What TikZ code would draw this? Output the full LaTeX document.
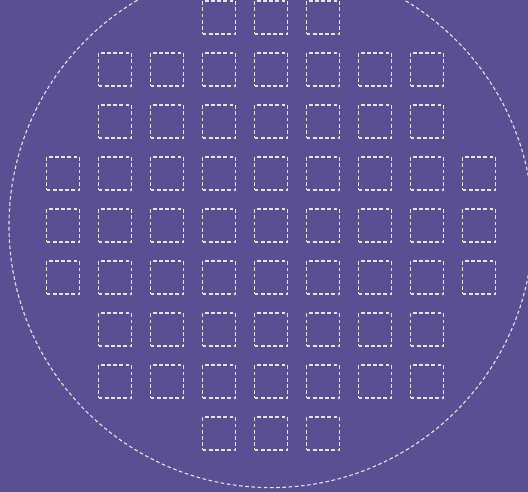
\documentclass[tikz,border=0pt]{standalone}
\usetikzlibrary{calc}
\definecolor{bgpurple}{RGB}{91,79,148}
\definecolor{linecol}{RGB}{232,228,242}
\begin{document}
\begin{tikzpicture}[x=1pt,y=-1pt,
  die/.style={draw=linecol,line width=1.4pt,dash pattern=on 3.8pt off 2.4pt,
    minimum size=33pt,inner sep=0pt,rectangle},
  wafer/.style={draw=linecol,line width=1.1pt,dash pattern=on 3.6pt off 2.6pt,circle,
    minimum size=524pt,inner sep=0pt}]
\fill[bgpurple] (0,0) rectangle (528,492);
\useasboundingbox (0,0) rectangle (528,492);
\begin{scope}
\clip (0,0) rectangle (528,492);
\node[wafer] (wafer) at (271,225.6) {};
\foreach \r/\cols in {1/{4,5,6},2/{2,3,4,5,6,7,8},3/{2,3,4,5,6,7,8},
  4/{1,2,3,4,5,6,7,8,9},5/{1,2,3,4,5,6,7,8,9},6/{1,2,3,4,5,6,7,8,9},
  7/{2,3,4,5,6,7,8},8/{2,3,4,5,6,7,8},9/{4,5,6}}{
  \foreach \c in \cols {
    \node[die] (d-\r-\c) at ({63+52*(\c-1)},{17.6+52*(\r-1)}) {};
  }
}
\end{scope}
\end{tikzpicture}
\end{document}
